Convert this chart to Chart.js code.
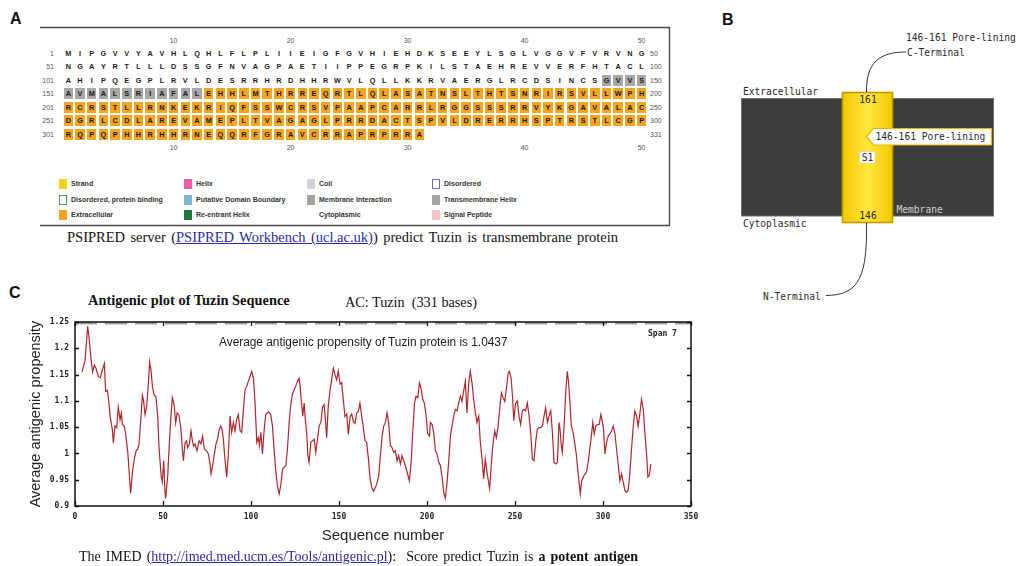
<!DOCTYPE html>
<html><head><meta charset="utf-8">
<script src="https://cdn.jsdelivr.net/npm/chart.js@4.4.1/dist/chart.umd.min.js"></script>
<style>
html,body{margin:0;padding:0;background:#fff;}
body{width:1019px;height:566px;position:relative;overflow:hidden;font-family:"Liberation Sans",Arial,sans-serif;color:#222;}
.t{position:absolute;white-space:nowrap;line-height:1.2;}
.mono{font-family:"DejaVu Sans Mono",monospace;font-size:9.6px;color:#2a2a2a;}
.serif{font-family:"Liberation Serif","Times New Roman",serif;}
.lab{font-weight:bold;font-size:16px;color:#111;}
.cell{position:absolute;width:9.6px;height:11px;}
.res{position:absolute;width:11.7px;text-align:center;font-weight:bold;font-size:7.3px;line-height:11px;color:#1a1a1a;}
.num{position:absolute;font-size:7px;color:#555;line-height:9px;white-space:nowrap;}
.leg{position:absolute;font-size:7px;font-weight:bold;color:#333;line-height:10px;white-space:nowrap;}
.sw{position:absolute;width:8px;height:10px;box-sizing:border-box;}
a{color:#2a2aa8;text-decoration:underline;}
#chartC{position:absolute;left:0;top:310px;}
</style></head><body>

<script>
// ---------------- DATA ----------------
// Panel A: Tuzin sequence (50 residues per row)
const seqRows = [
  "MIPGVVYAVHLQHLFLPLIIEIGFGVHIEHDKSEEYLSGLVGGVFVRVNG",
  "NGAYRTLLLDSSGFNVAGPAETIIPPEGRPKILSTAEHREVVERFHTACL",
  "AHIPQEGPLRVLDESRRHRDHHRWVLQLLKKRVAERGLRCDSINCSGVVS",
  "AVMALSRIAFALEHHLMTHRREQRTLQLASATNSLTHTSNRIRSVLLWPH",
  "RCRSTLLRNKEKRIQFSSWCRSVPAAPCARRLRGGSSSRRVYKGAVALAC",
  "DGRLCDLAREVAMEPLTVAGAGLPRRDACTSPVLDRERRHSPTRSTLCGP",
  "RQPQPHHRHHRNEQQRFGRAVCRRAPRPRRA"
];
const rowStartLabels = ["1","51","101","151","201","251","301"];
const rowEndLabels = ["50","100","150","200","250","300","331"];
const columnLabels = ["10","20","30","40","50"];
const transmembraneRange = [147, 162];
const extracellularRange = [163, 331];
const legendItems = [
  ["Strand","#f7d116","fill"],["Helix","#ee5ea5","fill"],["Coil","#d4d4d4","fill"],["Disordered","#6f5fd0","outline"],
  ["Disordered, protein binding","#3f9a4f","outline"],["Putative Domain Boundary","#7ab8d6","fill"],["Membrane Interaction","#a4a4a4","fill"],["Transmembrane Helix","#a4a4a4","fill"],
  ["Extracellular","#f5a21c","fill"],["Re-entrant Helix","#1b7a3b","fill"],["Cytoplasmic","","none"],["Signal Peptide","#f8c2cd","fill"]
];

// Panel C: antigenic propensity (span 7) by sequence position
const seqPos = [4,5.7,7.2,8,9,10,11,12,13.3,14.4,15.5,16.7,17.4,18.4,19,20,21.2,21.8,22.7,23.7,24.6,25.6,26.3,27,28,28.8,30,30.9,31.6,32.6,33.7,34.7,35.6,36.4,37.5,38.3,39,39.8,40.7,41.7,42.4,43.2,44,45,46,47,47.7,48.9,49.6,50.4,51.1,51.5,52.7,53.6,54.5,55.3,56.3,57.2,58,59,60.2,61,61.6,62.5,63.4,64,65,65.9,66.7,67.4,68.2,69.3,70.5,71.6,72.5,73.5,74.8,75.8,76.7,77.3,78.2,79.2,80.1,81,82,82.8,83.6,84.3,85.2,86.2,87.1,88.1,89,90,90.9,91.9,92.8,93.8,94.7,95.7,96.6,97.6,98.5,99.5,100.4,101.4,102.3,103.3,104.2,104.8,105.6,106.5,107.5,108.4,109.9,111.2,112.2,113.1,114,115,116,116.9,117.9,118.8,119.8,120.7,121.7,122.6,123.5,124.5,125.4,126.4,127.3,127.9,128.8,129.4,130.2,130.7,131.7,132.3,133,134,134.9,135.9,136.8,137.8,138.7,139.7,140.6,141.5,142.1,143,143.9,144.9,145.8,146.8,147.7,148.7,149.6,150.6,151.5,152.5,153.4,154.4,155.3,156.3,157.2,158.2,159.1,160,161,161.9,162.9,163.8,164.8,165.7,166.7,167.6,168.6,169.6,170.8,171.7,172.6,173.5,174.5,175.4,176.4,177.3,178.2,179.2,180.1,181.1,182,183,183.9,184.9,185.8,186.8,187.7,189.2,190,191,191.9,192.9,193.8,194.8,195.7,196.6,197.6,198.5,199.5,200.4,201.4,201.9,202.9,203.8,204.8,205.7,206.7,207.6,208.6,209.5,210.4,211.4,212.3,213.3,214.2,215.2,216.1,217.1,218,219,219.9,220.8,221.8,222.7,223.7,224.6,225.6,226.5,227.5,228.4,229.4,230.3,231.3,232.2,233.1,234.1,235,235.6,236.6,237.5,238.5,239.4,240.4,241.3,242.3,243.2,244.2,245.1,246.1,246.8,247.8,248.7,249.3,250.3,251.3,252.3,253.2,254.2,255.1,256,257,257.9,258.9,259.9,260.8,261.8,262.7,263.6,264.6,265.5,266.5,267.4,268.4,269.3,270.3,271.2,272.2,273.1,274.1,275,275.6,276.3,276.9,277.8,278.8,279.7,280.3,281.1,282,283,283.9,284.9,285.8,286.8,287.1,287.9,289.2,290.6,291.7,292.5,293.5,294.2,295,295.9,296.9,297.8,298.8,299.7,300.3,301.1,302,303,303.9,304.9,305.8,306.8,307.7,308.6,309.6,310.5,311.5,312.4,313.4,314.3,315.3,316.2,317.2,318.1,319.1,320,321,321.9,322.9,323.8,324.8,325.5,326.3,327.2];
const propensity = [1.155,1.177,1.242,1.22,1.183,1.155,1.168,1.161,1.146,1.144,1.158,1.171,1.118,1.12,1.105,1.07,1.046,1.02,1.052,1.049,1.088,1.064,1.077,1.055,1.052,1.036,1.002,0.958,0.924,0.964,0.989,1.005,1.008,1.018,1.07,1.111,1.099,1.074,1.089,1.133,1.174,1.158,1.127,1.111,1.108,1.07,1.014,0.958,0.946,0.986,0.927,0.914,0.958,1.02,1.07,1.106,1.093,1.058,1.077,1.074,1.046,1.008,0.986,1.02,1.024,1.011,1.018,1.043,1.024,1.014,1.018,1.005,1.024,1.018,1.033,1.008,1.005,0.999,0.98,0.961,0.977,0.999,1.018,1.027,1.046,1.052,1.045,1.027,0.989,0.955,0.996,1.071,1.04,1.059,1.043,1.065,1.074,1.043,1.04,1.084,1.121,1.128,1.137,1.147,1.156,1.143,1.096,1.021,1.03,1.015,1.04,0.999,1.046,1.074,1.079,1.074,1.052,1.008,0.97,0.939,0.923,0.939,0.97,0.974,0.977,1.008,1.059,1.093,1.112,1.121,1.128,1.137,1.143,1.128,1.093,1.071,1.096,1.071,1.037,0.996,0.983,1.021,1.024,1.027,1.002,1.027,1.052,1.059,1.087,1.093,1.071,1.03,1.09,1.12,1.14,1.162,1.15,1.14,1.157,1.132,1.135,1.1,1.07,1.075,1.036,1.07,1.075,1.06,1.057,1.077,1.08,1.096,1.071,1.05,1.024,1.021,0.99,0.955,0.935,0.928,0.936,0.945,0.958,0.996,1.033,1.052,1.059,1.077,1.059,1.015,1.011,1.002,1.005,0.986,0.996,0.98,0.996,0.986,0.977,0.958,0.948,0.983,1.04,1.096,1.109,1.106,1.134,1.124,1.103,1.096,1.071,1.037,1.033,1.059,1.055,1.04,1.005,0.999,0.983,0.977,0.955,0.926,0.915,0.945,0.983,1.033,1.052,1.071,1.084,1.081,1.096,1.109,1.099,1.118,1.137,1.077,1.134,1.156,1.134,1.103,1.077,1.059,1.071,1.021,0.989,0.952,0.989,0.964,0.945,0.933,0.983,1.018,1.043,1.03,1.052,1.084,1.115,1.106,1.099,1.124,1.153,1.156,1.143,1.103,1.062,1.095,1.1,1.071,1.055,1.081,1.084,1.081,1.096,1.074,1.04,0.989,0.986,1.024,1.046,1.049,1.049,1.052,1.071,1.087,1.059,1.071,1.081,1.043,0.983,0.98,0.983,1.059,1.046,1.015,1.002,1.046,1.115,1.156,1.14,1.103,1.052,1.04,1.021,0.996,0.964,0.933,0.923,0.948,0.958,0.964,0.986,1.008,1.037,1.059,1.037,1.052,1.055,1.055,1.074,1.059,1.046,0.999,1.021,1.033,1.037,1.043,1.052,1.037,1.008,0.98,0.948,0.961,0.945,0.93,0.926,0.93,0.964,1.008,1.052,1.081,1.071,1.052,1.077,1.103,1.084,1.04,0.996,0.955,0.958,0.98];
const topBandX = [0, 350];
const topBandY = [1.2475, 1.2475];
const xTickValues = [0,50,100,150,200,250,300,350];
const xTickLabels = ["0","50","100","150","200","250","300","350"];
const yTickValues = [0.9,0.95,1,1.05,1.1,1.15,1.2,1.25];
const yTickLabels = ["0.9","0.95","1","1.05","1.1","1.15","1.2","1.25"];
</script>

<!-- decorative frames / panel B diagram -->
<svg width="1019" height="566" style="position:absolute;left:0;top:0">
  <defs>
    <linearGradient id="yg" x1="0" x2="1" y1="0" y2="0">
      <stop offset="0" stop-color="#f2c800"/><stop offset="0.5" stop-color="#ffe640"/><stop offset="1" stop-color="#f2c800"/>
    </linearGradient>
  </defs>
  <!-- panel A frame -->
  <line x1="40" y1="27.5" x2="670" y2="27.5" stroke="#4a4a4a" stroke-width="1.6"/>
  <line x1="669.5" y1="27" x2="669.5" y2="225" stroke="#4a4a4a" stroke-width="1.4"/>
  <line x1="40" y1="225.5" x2="670" y2="225.5" stroke="#4a4a4a" stroke-width="1.6"/>
  <!-- panel B -->
  <rect x="741.5" y="98.5" width="252" height="117.5" fill="#3d3d3d" stroke="#707070" stroke-width="1"/>
  <rect x="842.5" y="92.5" width="50" height="130" fill="url(#yg)" stroke="#c29a00" stroke-width="1.6"/>
  <path d="M866.5 92 C866 62 880 52 906 52" fill="none" stroke="#333" stroke-width="1"/>
  <path d="M866.5 223 C867.5 280 857 295 826 295.5" fill="none" stroke="#333" stroke-width="1"/>
  <path d="M866.5 136.5 L873.5 128.5 L991.5 128.5 L991.5 145 L873.5 145 Z" fill="#fff" stroke="#e9b300" stroke-width="1.2"/>
  <rect x="859.5" y="151.5" width="15.5" height="11.5" fill="#fff" stroke="#e5d9a0" stroke-width="0.8"/>
</svg>

<!-- labels -->
<div class="t lab" style="left:10px;top:9px;">A</div>
<div class="t lab" style="left:722px;top:10px;">B</div>
<div class="t lab" style="left:9px;top:283px;">C</div>

<!-- Panel B text -->
<div class="t mono" style="left:906px;top:32px;">146-161 Pore-lining</div>
<div class="t mono" style="left:907px;top:47px;">C-Terminal</div>
<div class="t mono" style="left:743px;top:85.5px;">Extracellular</div>
<div class="t mono" style="left:858px;top:94px;width:20px;text-align:center;">161</div>
<div class="t mono" style="left:875.5px;top:131px;">146-161 Pore-lining</div>
<div class="t mono" style="left:860px;top:151.5px;width:15px;text-align:center;">S1</div>
<div class="t mono" style="left:858px;top:210px;width:20px;text-align:center;">146</div>
<div class="t mono" style="left:896.5px;top:203.5px;color:#d0d0d0;">Membrane</div>
<div class="t mono" style="left:743px;top:218px;">Cytoplasmic</div>
<div class="t mono" style="left:763px;top:291px;">N-Terminal</div>

<!-- Panel A caption -->
<div id="capA" class="t serif" style="left:67px;top:229px;font-size:14.5px;color:#111;">PSIPRED server (<a>PSIPRED Workbench (ucl.ac.uk)</a>) predict Tuzin is transmembrane protein</div>

<!-- Panel C texts -->
<div id="titleC" class="t serif" style="left:88px;top:292px;font-size:12.5px;font-weight:bold;color:#111;">Antigenic plot of Tuzin Sequence</div>
<div id="acC" class="t serif" style="left:345px;top:294px;font-size:12.5px;color:#111;">AC: Tuzin&nbsp; (331 bases)</div>
<canvas id="chartC" width="720" height="250"></canvas>
<div id="avgC" class="t" style="left:219px;top:335px;font-size:12.5px;color:#1a1a1a;">Average antigenic propensity of Tuzin protein is 1.0437</div>
<div class="t" style="left:648px;top:329px;font-family:'DejaVu Sans Mono',monospace;font-size:8px;font-weight:bold;color:#222;">Span 7</div>
<div id="capC" class="t serif" style="left:79px;top:549px;font-size:14px;color:#111;">The IMED (<a>http://imed.med.ucm.es/Tools/antigenic.pl</a>):&nbsp; Score predict Tuzin is <b>a potent antigen</b></div>

<script>
// ---- Panel A sequence grid ----
(function(){
  const colX0 = 68.3, colStep = 11.7, rowY0 = 53.5, rowStep = 13.45;
  const frag = document.createDocumentFragment();
  seqRows.forEach((row, r) => {
    const yc = rowY0 + r*rowStep;
    const ln = document.createElement('div');
    ln.className='num'; ln.style.right=(1019-54)+'px'; ln.style.top=(yc-4.5)+'px'; ln.textContent=rowStartLabels[r];
    frag.appendChild(ln);
    const rn = document.createElement('div');
    rn.className='num'; rn.style.left='650px'; rn.style.top=(yc-4.5)+'px'; rn.textContent=rowEndLabels[r];
    frag.appendChild(rn);
    [...row].forEach((ch, c) => {
      const idx = r*50 + c + 1;
      const xc = colX0 + c*colStep;
      let bg = null;
      if (idx >= transmembraneRange[0] && idx <= transmembraneRange[1]) bg = '#a8a8a8';
      else if (idx >= extracellularRange[0] && idx <= extracellularRange[1]) bg = '#f5a51f';
      if (bg) {
        const cell = document.createElement('div');
        cell.className='cell'; cell.style.left=(xc-4.8)+'px'; cell.style.top=(yc-5.5)+'px'; cell.style.background=bg;
        frag.appendChild(cell);
      }
      const t = document.createElement('div');
      t.className='res'; t.style.left=(xc-5.85)+'px'; t.style.top=(yc-5.5)+'px'; t.textContent=ch;
      frag.appendChild(t);
    });
  });
  columnLabels.forEach((lab, i) => {
    const xc = colX0 + (parseInt(lab,10)-1)*colStep;
    [40, 147].forEach(y => {
      const d = document.createElement('div');
      d.className='num'; d.style.left=(xc-10)+'px'; d.style.width='20px'; d.style.textAlign='center';
      d.style.top=(y-4.5)+'px'; d.textContent=lab; frag.appendChild(d);
    });
  });
  // legend
  const lx = [59, 184, 307, 432], ly = [184, 200, 215];
  legendItems.forEach((it, i) => {
    const col = i % 4, row = Math.floor(i/4);
    if (it[2] !== 'none') {
      const s = document.createElement('div');
      s.className='sw'; s.style.left=lx[col]+'px'; s.style.top=(ly[row]-5)+'px';
      if (it[2]==='fill') s.style.background=it[1]; else { s.style.border='1.2px solid '+it[1]; s.style.background='#fff'; }
      frag.appendChild(s);
    }
    const t = document.createElement('div');
    t.className='leg'; t.style.left=(lx[col]+12)+'px'; t.style.top=(ly[row]-5)+'px'; t.textContent=it[0];
    frag.appendChild(t);
  });
  document.body.appendChild(frag);
})();

// fit helpers
function fitWord(id, target){
  const el=document.getElementById(id);
  const w=el.getBoundingClientRect().width;
  const spaces=(el.textContent.match(/\s/g)||[]).length;
  if(spaces>0) el.style.wordSpacing=((target-w)/spaces)+'px';
}
function fitSize(id, target){
  const el=document.getElementById(id);
  const w=el.getBoundingClientRect().width;
  const fs=parseFloat(getComputedStyle(el).fontSize);
  el.style.fontSize=(fs*target/w)+'px';
}
fitWord('capA', 551);
fitWord('capC', 559);
fitSize('titleC', 202);
fitSize('acC', 132);
fitSize('avgC', 289);

// ---- Panel C chart ----
const framePlugin = {
  id:'frame',
  afterDraw(chart){
    const {ctx, chartArea:a, scales:{x,y}} = chart;
    ctx.save();
    ctx.strokeStyle='#111'; ctx.lineWidth=1.5;
    ctx.strokeRect(a.left, a.top, a.right-a.left, a.bottom-a.top);
    ctx.lineWidth=1.3;
    ctx.beginPath();
    x.ticks.forEach(t=>{const px=Math.round(x.getPixelForValue(t.value))+0.5;
      ctx.moveTo(px,a.bottom); ctx.lineTo(px,a.bottom-5); ctx.moveTo(px,a.top); ctx.lineTo(px,a.top+4);});
    y.ticks.forEach(t=>{const py=Math.round(y.getPixelForValue(t.value))+0.5;
      ctx.moveTo(a.left,py); ctx.lineTo(a.left+4,py); ctx.moveTo(a.right,py); ctx.lineTo(a.right-4,py);});
    ctx.stroke(); ctx.restore();
  }
};
new Chart(document.getElementById('chartC'), {
  type:'line',
  data:{datasets:[
    {data: topBandX.map((v,i)=>({x:v, y:topBandY[i]})), borderColor:'#a0a0a0', borderWidth:2.4, borderDash:[22,8], pointRadius:0},
    {data: seqPos.map((v,i)=>({x:v, y:propensity[i]})), borderColor:'#b0262b', borderWidth:1.2, pointRadius:0, tension:0}
  ]},
  options:{
    responsive:false, animation:false, devicePixelRatio:1,
    layout:{padding:{left:0, top:12, right:29, bottom:0}},
    plugins:{legend:{display:false}, tooltip:{enabled:false}},
    scales:{
      x:{type:'linear', min:0, max:350,
        afterBuildTicks:s=>{s.ticks=xTickValues.map(v=>({value:v}));},
        ticks:{callback:(v,i)=>xTickLabels[i], font:{family:'DejaVu Sans Mono', size:8, weight:'bold'}, color:'#222', padding:6, maxRotation:0, autoSkip:false},
        grid:{display:false, drawTicks:false}, border:{display:false},
        title:{display:true, text:'Sequence number', font:{family:'Liberation Sans', size:15}, color:'#222', padding:{top:0, bottom:15}},
        afterFit:s=>{s.height=54;}
      },
      y:{type:'linear', min:0.9, max:1.25,
        afterBuildTicks:s=>{s.ticks=yTickValues.map(v=>({value:v}));},
        ticks:{callback:(v,i)=>yTickLabels[i], font:{family:'DejaVu Sans Mono', size:8, weight:'bold'}, color:'#222', padding:6, autoSkip:false},
        grid:{display:false, drawTicks:false}, border:{display:false},
        title:{display:true, text:'Average antigenic propensity', font:{family:'Liberation Sans', size:14.5}, color:'#222', padding:{top:27, bottom:0}},
        afterFit:s=>{s.width=75;}
      }
    }
  },
  plugins:[framePlugin]
});
</script>
</body></html>
